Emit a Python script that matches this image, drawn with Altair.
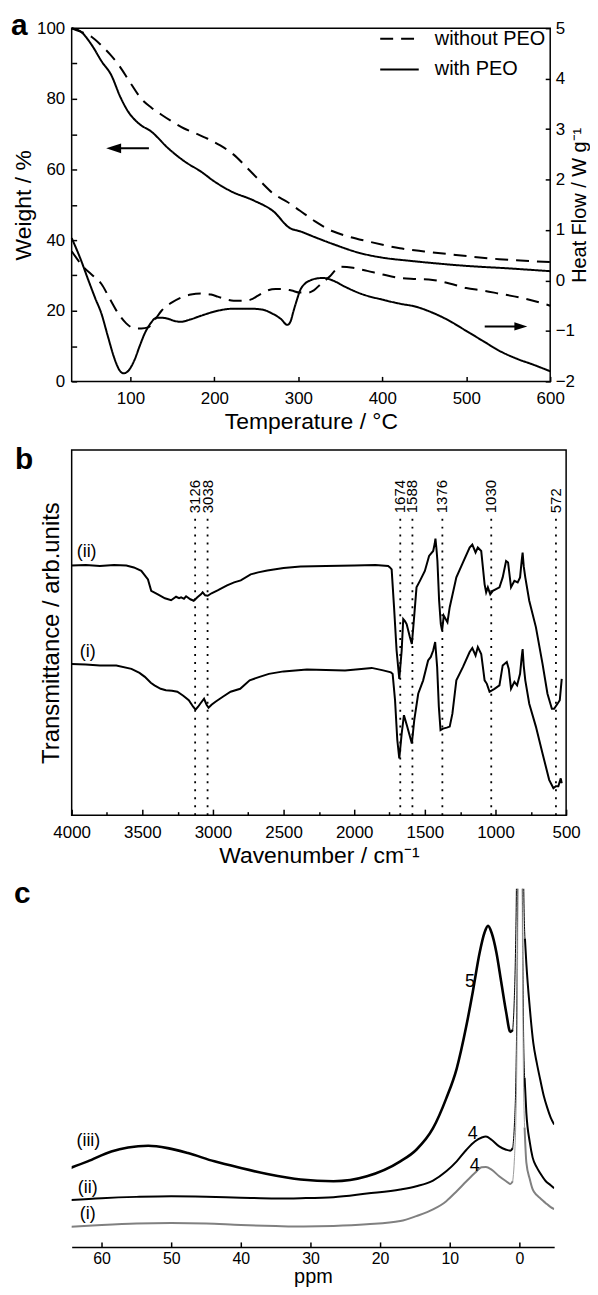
import altair as alt
import pandas as pd

FONT = "Liberation Sans"

# ---------------- panel a : TGA / DSC ----------------
T_w_with = [30, 42, 54, 66, 77, 88, 97.5, 110, 125, 145, 165, 184, 200, 220, 247, 270, 290, 302, 320, 341, 374, 401, 430, 460, 500, 550, 600]
W_w_with = [100, 98.8, 95.2, 90.5, 86.8, 80.5, 76.3, 73, 70.7, 66, 62.2, 59.4, 56.6, 53.8, 51.2, 48.2, 43.4, 42.5, 40.8, 38.9, 36.3, 35, 34.2, 33.5, 32.7, 32, 31.2]
T_w_without = [30, 42, 54, 65, 76, 86, 100, 113, 125, 137, 150, 164, 178, 192, 207, 223, 240, 255, 271, 287, 302, 320, 341, 360, 382, 421, 450, 480, 539, 600]
W_w_without = [100, 98.9, 97.5, 95.2, 92.5, 89.6, 84.5, 80, 77.5, 75.5, 73.5, 71.6, 70.2, 68.7, 66.8, 64.2, 60.2, 56.6, 53, 50.8, 48.3, 45.3, 42.5, 41, 39.7, 37.7, 36.8, 36, 34.6, 33.8]
T_h_with = [30, 40, 50, 58, 65.5, 73, 81, 87, 92, 98, 105, 111, 117, 124, 131, 138, 145, 152, 160, 170, 184, 204, 222, 243, 258, 267, 279, 287, 291, 294, 298, 302, 308, 314, 322, 330, 341, 355, 374, 400, 421, 440, 460, 480, 500, 520, 539, 560, 580, 600]
H_h_with = [0.84, 0.45, 0.0, -0.35, -0.66, -1.1, -1.55, -1.78, -1.84, -1.78, -1.57, -1.3, -1.05, -0.85, -0.74, -0.74, -0.76, -0.8, -0.82, -0.78, -0.7, -0.6, -0.56, -0.56, -0.58, -0.64, -0.76, -0.88, -0.8, -0.62, -0.4, -0.2, -0.06, 0.0, 0.04, 0.05, 0.0, -0.12, -0.26, -0.38, -0.46, -0.52, -0.64, -0.8, -1.0, -1.2, -1.39, -1.55, -1.67, -1.8]
T_h_without = [30, 45, 55, 65.5, 75, 85.7, 95, 105, 113, 121, 129, 137, 148, 160, 172, 184, 196, 204, 215, 223, 235, 243, 252, 263, 273, 282, 292, 302, 312, 318, 328, 338, 345, 350, 365, 382, 400, 421, 440, 460, 480, 500, 520, 539, 570, 600]
H_h_without = [0.58, 0.25, 0.1, -0.07, -0.35, -0.66, -0.85, -0.95, -0.95, -0.93, -0.78, -0.6, -0.45, -0.34, -0.28, -0.26, -0.28, -0.32, -0.38, -0.4, -0.4, -0.38, -0.3, -0.2, -0.17, -0.17, -0.2, -0.24, -0.24, -0.2, -0.05, 0.09, 0.22, 0.27, 0.25, 0.19, 0.12, 0.05, 0.03, 0.01, -0.06, -0.15, -0.2, -0.26, -0.36, -0.5]
series_names = ["without PEO", "with PEO"]

left_arrow_T = [122, 80]
left_arrow_W = [66, 66]
right_arrow_T = [522, 565]
right_arrow_H = [-0.91, -0.91]

# ---------------- panel b : FTIR ----------------
wn_ii = [4000, 3900, 3800, 3700, 3613, 3560, 3507, 3460, 3437, 3390, 3340, 3296, 3261, 3240, 3225, 3205, 3190, 3160, 3136, 3110, 3085, 3073, 3055, 3037, 3010, 2967, 2900, 2850, 2803, 2733, 2680, 2615, 2500, 2380, 2200, 2000, 1850, 1760, 1747, 1735, 1718, 1700, 1681, 1664, 1653, 1641, 1629, 1606, 1592, 1578, 1559, 1535, 1500, 1470, 1441, 1430, 1425, 1418, 1411, 1399, 1387, 1378, 1366, 1352, 1340, 1324, 1277, 1230, 1183, 1164, 1141, 1125, 1101, 1077, 1066, 1054, 1037, 1019, 972, 949, 925, 911, 890, 866, 843, 826, 815, 808, 800, 789, 761, 714, 667, 632, 601, 585, 561, 545, 531]
tr_ii = [251, 251.5, 250.5, 251.5, 251, 249, 245.5, 237, 225.5, 222, 218, 216, 219.5, 218, 219, 217.5, 220, 217, 215.5, 219, 222, 224, 221, 220.5, 223, 226, 231, 234, 236, 242, 244, 246, 248.5, 250, 250.5, 251, 251.5, 250.5, 249, 247, 209, 165.5, 137, 165.5, 197, 195, 192, 179, 172, 195.5, 229, 235.5, 245.5, 260.5, 265.5, 273, 278, 268, 255.5, 215.5, 192, 185.5, 200.5, 197, 194, 209, 239, 254, 269, 272, 264, 269, 265.5, 232, 224, 229, 222, 225.5, 229, 239, 255.5, 254, 229, 235.5, 234, 239, 255, 264, 250, 239, 215.5, 189, 152, 122, 107, 107, 112, 115.5, 137]
wn_i = [4000, 3900, 3800, 3684, 3577, 3520, 3482, 3440, 3414, 3370, 3333, 3290, 3252, 3210, 3171, 3140, 3123, 3105, 3090, 3063, 3045, 3031, 3010, 2982, 2930, 2875, 2807, 2740, 2670, 2604, 2500, 2335, 2200, 2065, 1950, 1876, 1795, 1740, 1728, 1711, 1695, 1681, 1664, 1648, 1625, 1592, 1575, 1547, 1512, 1477, 1458, 1441, 1427, 1413, 1401, 1389, 1371, 1345, 1324, 1305, 1277, 1230, 1183, 1164, 1141, 1125, 1101, 1077, 1061, 1042, 1007, 972, 949, 920, 906, 890, 866, 847, 826, 815, 808, 800, 789, 761, 714, 667, 620, 590, 573, 555, 538, 531]
tr_i = [152, 151.5, 150.5, 150.5, 147, 143, 139, 133, 130.5, 127, 125.5, 125, 124, 120, 115.5, 109, 106, 109, 112, 117, 111, 108, 111, 114, 119, 124, 127, 135.5, 139, 142, 144.5, 146.5, 146, 145.5, 147, 148, 145.5, 143.5, 142, 115.5, 75.5, 57, 82, 100.5, 89, 72, 95.5, 122, 135.5, 155.5, 159, 165.5, 174, 149, 109, 85.5, 87, 88, 89, 102, 135.5, 149, 164, 168, 160.5, 169, 162, 135.5, 132, 124, 127, 130.5, 150.5, 154, 147, 127, 134, 130.5, 142, 158, 167, 150, 135.5, 112, 89, 62, 35.5, 27, 29, 29, 37, 32]
peak_wn = [3126, 3038, 1674, 1588, 1376, 1030, 572]
peak_label = ["3126", "3038", "1674", "1588", "1376", "1030", "572"]
rule_top = 298.5
label_base = 303.5
minor_wn = [3750, 3250, 2750, 2250, 1750, 1250, 750]
b_curve_labels = ["(ii)", "(i)"]
b_curve_label_wn = [3894, 3887]
b_curve_label_tr = [264, 164]

# ---------------- panel c : NMR ----------------
ppm_iii_broad = [65, 62, 58.6, 56.2, 53.3, 50.5, 47.6, 43.8, 40, 36.2, 31.4, 26.7, 21.9, 17.1, 14.8, 12.4, 10.5, 9.0, 7.6, 6.7, 5.7, 5.0, 4.5, 4.0, 3.3, 2.6, 1.9, 1.3, 0.95]
int_iii_broad = [78, 86, 96, 100, 101.7, 99.3, 94.3, 86, 79.3, 73.3, 67.7, 66, 71, 86, 97.7, 119.3, 149.3, 179.3, 222.7, 256, 296, 316, 322.7, 316, 296, 266, 236, 216, 218]
ppm_iii_peak = [0.95, 0.75, 0.55, 0.4, 0.25, 0.1, -0.1, -0.3, -0.45, -0.6, -0.8]
int_iii_peak = [218, 245, 300, 380, 560, 900, 1300, 900, 560, 380, 310]
ppm_iii_tail = [-0.8, -1.0, -1.5, -2.0, -2.5, -3.0, -3.5, -4.0, -4.5, -5.0]
int_iii_tail = [310, 285, 240, 205, 185, 168, 152, 140, 130, 123]

ppm_ii_broad = [65, 60, 55, 50, 45, 40, 35, 31.4, 26.7, 21.9, 17.1, 14.8, 12.4, 10.5, 9.0, 7.6, 6.4, 5.4, 4.8, 4.0, 2.9, 1.9, 1.3, 0.95]
int_ii_broad = [47, 49, 50.3, 51, 50.5, 49.5, 48.7, 49, 50, 53.7, 57.7, 61, 66.7, 76, 86, 97.7, 106, 110, 111, 107.7, 101, 97.7, 96.7, 99.3]
ppm_ii_peak = [0.95, 0.7, 0.5, 0.35, 0.2, 0.05, -0.1, -0.25, -0.4, -0.55, -0.75]
int_ii_peak = [99.3, 125, 170, 250, 420, 800, 1300, 800, 420, 250, 170]
ppm_ii_tail = [-0.75, -1.0, -1.5, -1.9, -2.5, -3.0, -3.8, -4.5, -5.0]
int_ii_tail = [170, 135, 105, 90, 80, 74, 66, 62, 59]

ppm_i_broad = [65, 60, 55, 50, 45, 40, 35, 31, 26.7, 21.9, 17.1, 14.8, 12.4, 10.5, 9.0, 7.6, 6.4, 5.4, 4.8, 4.0, 2.9, 1.9, 1.3, 0.95]
int_i_broad = [20, 22, 23.5, 24, 23.5, 22, 21, 20.5, 21, 22.7, 26, 31, 37.7, 46, 56, 66, 74.3, 80, 80.3, 77.7, 71, 66, 63.3, 66]
ppm_i_peak = [0.95, 0.7, 0.5, 0.35, 0.2, 0.05, -0.1, -0.25, -0.4, -0.55, -0.75]
int_i_peak = [66, 90, 130, 200, 380, 800, 1300, 800, 380, 200, 120]
ppm_i_tail = [-0.75, -1.0, -1.5, -1.9, -2.5, -3.0, -3.8, -4.5, -5.0]
int_i_tail = [120, 85, 68, 58, 52, 49, 44, 40, 38]

c_labels = ["(iii)", "(ii)", "(i)", "5", "4", "4"]
c_label_ppm = [61.9, 62, 62, 7.1, 6.7, 6.4]
c_label_int = [106, 59, 33, 266, 113, 81]

# ======================= build panel a =======================
wt = pd.concat([
    pd.DataFrame({"T": T_w_without, "v": W_w_without, "series": series_names[0]}),
    pd.DataFrame({"T": T_w_with, "v": W_w_with, "series": series_names[1]}),
])
hf = pd.concat([
    pd.DataFrame({"T": T_h_without, "v": H_h_without, "series": series_names[0]}),
    pd.DataFrame({"T": T_h_with, "v": H_h_with, "series": series_names[1]}),
])

dash_scale = alt.Scale(domain=series_names, range=[[13, 8], [1, 0]])
leg = alt.Legend(orient="none", legendX=309, legendY=-10, title=None, symbolType="stroke",
                 symbolSize=1500, symbolStrokeWidth=2, symbolStrokeColor="black",
                 labelFontSize=20, labelFont=FONT, labelColor="black", labelOffset=15,
                 rowPadding=-22, padding=0)

xa = alt.X("T:Q", scale=alt.Scale(domain=[30, 600], nice=False),
           axis=alt.Axis(values=[100, 200, 300, 400, 500, 600], offset=-5, tickSize=5,
                         domain=False, labelPadding=9, labelFlush=False,
                         title="Temperature / °C",
                         titlePadding=4, titleFontSize=23, labelFontSize=17))
y_left = alt.Y("v:Q", scale=alt.Scale(domain=[0, 100], nice=False),
               axis=alt.Axis(orient="left", values=list(range(0, 101, 10)),
                             labelExpr="datum.value % 20 == 0 ? datum.label : ''",
                             offset=-5, tickSize=5, domain=False, labelPadding=7,
                             title="Weight / %", titlePadding=1, titleFontSize=23,
                             labelFontSize=17))
y_right = alt.Y("v:Q", scale=alt.Scale(domain=[-2, 5], nice=False),
                axis=alt.Axis(orient="right", values=[-2, -1, 0, 1, 2, 3, 4, 5],
                              offset=-5, tickSize=5, domain=False, labelPadding=5,
                              title="Heat Flow / W g⁻¹", titleAngle=270,
                              titleBaseline="middle", titleX=34, titleFontSize=20,
                              labelFontSize=17))

wt_line = alt.Chart(wt).mark_line(color="black", strokeWidth=2, interpolate="monotone").encode(
    x=xa, y=y_left, strokeDash=alt.StrokeDash("series:N", scale=dash_scale, legend=leg))
la = pd.DataFrame({"T": left_arrow_T, "v": left_arrow_W})
la_shaft = alt.Chart(la).mark_line(color="black", strokeWidth=2).encode(x=xa, y=y_left)
la_head = alt.Chart(la.iloc[[1]]).mark_point(shape="M-1,0L1,-0.65L1,0.65Z", size=225, filled=True,
                                             color="black", opacity=1).encode(x=xa, y=y_left)
a_lab = alt.Chart(pd.DataFrame({"t": ["a"]})).mark_text(
    font=FONT, fontSize=30, fontWeight="bold", align="left", baseline="alphabetic", color="black"
).encode(text="t:N", x=alt.value(-61), y=alt.value(7))
left_layer = alt.layer(wt_line, la_shaft, la_head, a_lab)

hf_line = alt.Chart(hf).mark_line(color="black", strokeWidth=2, interpolate="monotone").encode(
    x=xa, y=y_right, strokeDash=alt.StrokeDash("series:N", scale=dash_scale, legend=leg))
ra = pd.DataFrame({"T": right_arrow_T, "v": right_arrow_H})
ra_shaft = alt.Chart(ra).mark_line(color="black", strokeWidth=2).encode(x=xa, y=y_right)
ra_head = alt.Chart(ra.iloc[[1]]).mark_point(shape="M1,0L-1,-0.65L-1,0.65Z", size=169, filled=True,
                                             color="black", opacity=1).encode(x=xa, y=y_right)
right_layer = alt.layer(hf_line, ra_shaft, ra_head)

panel_a = alt.layer(left_layer, right_layer).resolve_scale(y="independent").properties(
    width=481, height=355)

# ======================= build panel b =======================
ir = pd.concat([
    pd.DataFrame({"wn": wn_ii, "tr": tr_ii, "s": "(ii)"}),
    pd.DataFrame({"wn": wn_i, "tr": tr_i, "s": "(i)"}),
])
wn_scale = alt.Scale(domain=[500, 4000], reverse=True, nice=False)
tr_scale = alt.Scale(domain=[0, 367], nice=False)
xb = alt.X("wn:Q", scale=wn_scale,
           axis=alt.Axis(orient="bottom", values=[4000, 3500, 3000, 2500, 2000, 1500, 1000, 500],
                         format="d", offset=-6, tickSize=6, domain=False, labelPadding=9,
                         labelFlush=False, labelFontSize=17, title="Wavenumber / cm⁻¹",
                         titlePadding=5, titleFontSize=23))
yb = alt.Y("tr:Q", scale=tr_scale,
           axis=alt.Axis(labels=False, ticks=False, domain=False,
                         title="Transmittance / arb.units", titlePadding=8, titleFontSize=24))
ir_lines = alt.Chart(ir).mark_line(color="black", strokeWidth=2).encode(
    x=xb, y=yb, detail="s:N")
pk = pd.DataFrame({"wn": peak_wn, "lab": peak_label, "tr": 0.0, "tr2": rule_top})
pk_rules = alt.Chart(pk).mark_rule(color="black", strokeWidth=1.8, strokeDash=[2, 6]).encode(
    x=xb, y=yb, y2="tr2:Q")
pkt = pd.DataFrame({"wn": peak_wn, "lab": peak_label, "tr": label_base})
pk_text = alt.Chart(pkt).mark_text(font=FONT, fontSize=15, angle=270, align="left",
                                   baseline="middle", color="black").encode(
    x=xb, y=yb, text="lab:N")
bl = pd.DataFrame({"wn": b_curve_label_wn, "tr": b_curve_label_tr, "lab": b_curve_labels})
b_curve_txt = alt.Chart(bl).mark_text(font=FONT, fontSize=18, color="black").encode(
    x=xb, y=yb, text="lab:N")
b_lab = alt.Chart(pd.DataFrame({"t": ["b"]})).mark_text(
    font=FONT, fontSize=30, fontWeight="bold", align="left", baseline="alphabetic", color="black"
).encode(text="t:N", x=alt.value(-57), y=alt.value(19))
b_main = alt.layer(ir_lines, pk_rules, pk_text, b_curve_txt, b_lab)
b_minor = alt.Chart(pd.DataFrame({"wn": minor_wn})).mark_point(opacity=0, size=1).encode(
    x=alt.X("wn:Q", scale=wn_scale,
            axis=alt.Axis(orient="bottom", values=minor_wn, offset=-3.5, tickSize=3.5,
                          domain=False, labels=False, title=None)))
panel_b = alt.layer(b_main, b_minor).resolve_scale(x="independent").properties(
    width=497, height=367)

# ======================= build panel c =======================
segs = []
for name, seg, p, v, w, col in [
    ("iii", "broad", ppm_iii_broad, int_iii_broad, 2.6, "black"),
    ("iii", "peak", ppm_iii_peak, int_iii_peak, 1.0, "black"),
    ("iii", "tail", ppm_iii_tail, int_iii_tail, 2.0, "black"),
    ("ii", "broad", ppm_ii_broad, int_ii_broad, 2.0, "black"),
    ("ii", "peak", ppm_ii_peak, int_ii_peak, 1.0, "black"),
    ("ii", "tail", ppm_ii_tail, int_ii_tail, 2.0, "black"),
    ("i", "broad", ppm_i_broad, int_i_broad, 2.0, "#808080"),
    ("i", "peak", ppm_i_peak, int_i_peak, 1.0, "#9a9a9a"),
    ("i", "tail", ppm_i_tail, int_i_tail, 2.0, "#808080"),
]:
    segs.append(pd.DataFrame({"ppm": p, "I": v, "key": name + "-" + seg, "w": w, "col": col}))
nmr = pd.concat(segs)

ppm_scale = alt.Scale(domain=[64.3, -5], nice=False)
yc = alt.Y("I:Q", scale=alt.Scale(domain=[0, 360], nice=False), axis=None)
xc_dom = alt.X("ppm:Q", scale=ppm_scale,
               axis=alt.Axis(orient="bottom", ticks=False, labels=False, title=None,
                             domain=True, domainWidth=1.5))
nmr_lines = alt.Chart(nmr).mark_line(clip=True, interpolate="monotone").encode(
    x=xc_dom, y=yc, detail="key:N",
    color=alt.Color("col:N", scale=None),
    strokeWidth=alt.StrokeWidth("w:Q", scale=None))
c_lab = alt.Chart(pd.DataFrame({"t": ["c"]})).mark_text(
    font=FONT, fontSize=30, fontWeight="bold", align="left", baseline="alphabetic", color="black"
).encode(text="t:N", x=alt.value(-58), y=alt.value(14))
c_base = alt.layer(nmr_lines, c_lab)
cl = pd.DataFrame({"ppm": c_label_ppm, "I": c_label_int, "lab": c_labels})
c_txt = alt.Chart(cl).mark_text(font=FONT, fontSize=18, color="black").encode(
    x=alt.X("ppm:Q", scale=ppm_scale,
            axis=alt.Axis(orient="bottom", values=[60, 50, 40, 30, 20, 10, 0], offset=-5,
                          tickSize=5, domain=False, labelPadding=4, labelFontSize=16,
                          labelFlush=False, title="ppm", titlePadding=0, titleFontSize=20)),
    y=yc, text="lab:N")
panel_c = alt.layer(c_base, c_txt).resolve_scale(x="independent").properties(
    width=485, height=360, view=alt.ViewBackground(strokeOpacity=0))

chart = alt.vconcat(panel_a, panel_b, panel_c, spacing=10).resolve_scale(
    strokeDash="independent"
).properties(
    padding={"left": 2, "top": -1, "right": 0, "bottom": 0}
).configure_axis(
    labelFont=FONT, titleFont=FONT, labelColor="black", titleColor="black",
    tickColor="black", domainColor="black", tickWidth=1.5, grid=False,
    titleFontWeight="normal"
).configure_view(stroke="black", strokeWidth=1.5)

chart.save("out.html", embed_options={"renderer": "svg", "actions": False})
